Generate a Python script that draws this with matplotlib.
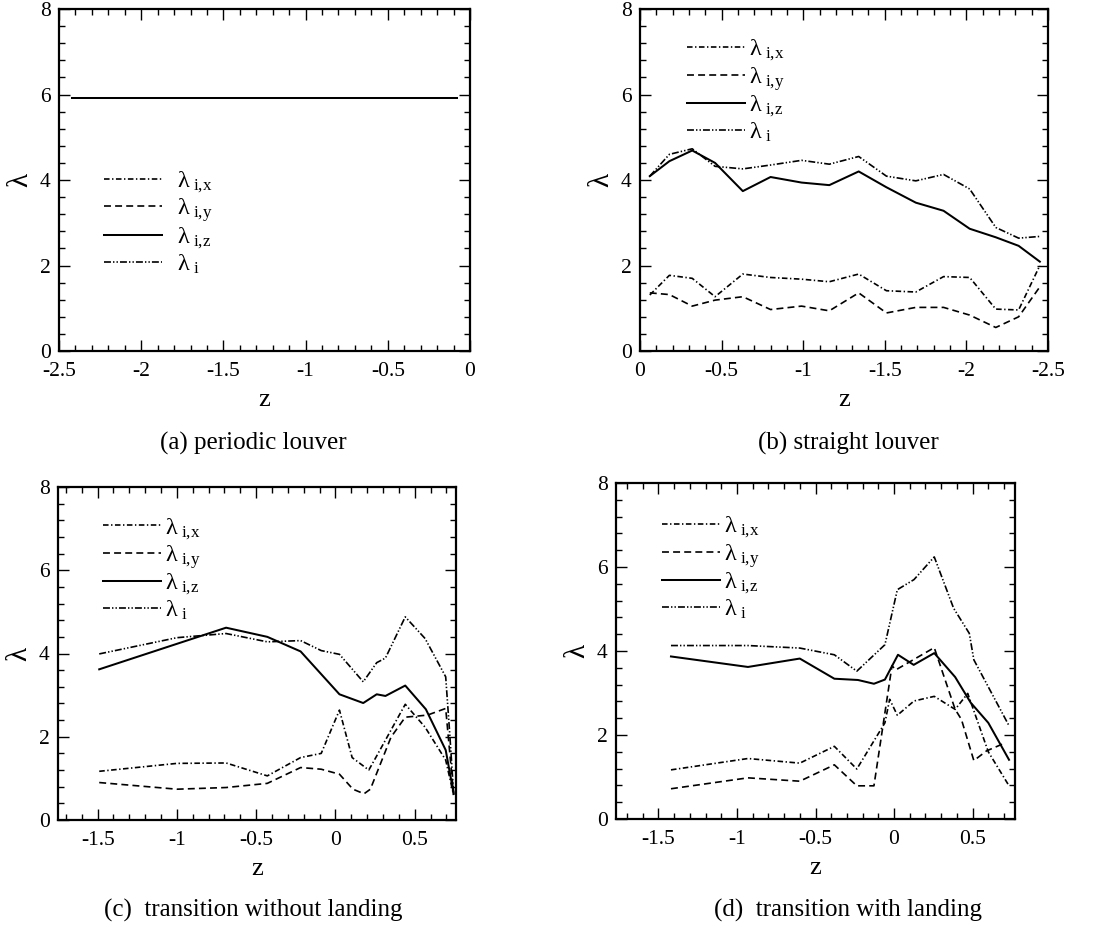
import numpy as np
import matplotlib
matplotlib.use("Agg")
import matplotlib.pyplot as plt
from matplotlib.ticker import MultipleLocator, FuncFormatter

plt.rcParams['font.family'] = ['Liberation Serif', 'DejaVu Serif']
plt.rcParams['mathtext.fontset'] = 'custom'
plt.rcParams['mathtext.rm'] = 'Liberation Serif'
plt.rcParams['mathtext.it'] = 'Liberation Serif'
plt.rcParams['axes.unicode_minus'] = False
plt.rcParams['lines.scale_dashes'] = False

# (a) periodic louver - all components lie on one line
z_a = [-2.42, -0.08]
a_x = [5.92, 5.92]
a_y = [5.92, 5.92]
a_z = [5.92, 5.92]
a_i = [5.92, 5.92]

# (b) straight louver
z_b = [-0.06, -0.18, -0.32, -0.46, -0.63, -0.80, -0.99, -1.16, -1.34, -1.51,
       -1.69, -1.86, -2.02, -2.18, -2.32, -2.45]
b_x = [1.31, 1.77, 1.70, 1.27, 1.80, 1.72, 1.68, 1.62, 1.80, 1.41, 1.38, 1.74,
       1.72, 0.98, 0.96, 2.00]
b_y = [1.36, 1.32, 1.05, 1.19, 1.27, 0.97, 1.05, 0.94, 1.36, 0.89, 1.02, 1.02,
       0.84, 0.55, 0.80, 1.50]
b_z = [4.09, 4.44, 4.69, 4.40, 3.74, 4.07, 3.94, 3.88, 4.20, 3.83, 3.47, 3.28,
       2.86, 2.66, 2.46, 2.09]
b_i = [4.09, 4.60, 4.73, 4.32, 4.26, 4.35, 4.46, 4.37, 4.55, 4.09, 3.98, 4.13,
       3.79, 2.89, 2.64, 2.68]

# (c) transition without landing
zc_x = [-1.49, -1.0, -0.69, -0.43, -0.22, -0.09, 0.025, 0.105, 0.21, 0.26, 0.44,
        0.565, 0.695, 0.745]
c_x = [1.17, 1.36, 1.37, 1.06, 1.50, 1.60, 2.64, 1.50, 1.20, 1.54, 2.78, 2.23,
       1.44, 0.60]
zc_y = [-1.49, -1.0, -0.69, -0.43, -0.22, -0.09, 0.025, 0.11, 0.18, 0.22, 0.35,
        0.44, 0.58, 0.695, 0.745]
c_y = [0.90, 0.74, 0.78, 0.88, 1.26, 1.22, 1.10, 0.74, 0.63, 0.74, 1.99, 2.47,
       2.52, 2.68, 0.60]
zc_z = [-1.49, -0.69, -0.43, -0.22, 0.025, 0.175, 0.26, 0.315, 0.44, 0.57, 0.695,
        0.745]
c_z = [3.62, 4.62, 4.40, 4.05, 3.02, 2.81, 3.02, 2.98, 3.23, 2.66, 1.68, 0.64]
zc_i = [-1.49, -1.0, -0.69, -0.43, -0.22, -0.09, 0.025, 0.175, 0.26, 0.315, 0.44,
        0.565, 0.695, 0.72, 0.745]
c_i = [3.99, 4.38, 4.48, 4.28, 4.31, 4.07, 3.98, 3.32, 3.78, 3.89, 4.88, 4.36,
       3.44, 2.10, 0.64]

# (d) transition with landing
zd_x = [-1.42, -0.93, -0.60, -0.38, -0.237, -0.058, -0.028, 0.021, 0.127, 0.256,
        0.389, 0.469, 0.60, 0.732]
d_x = [1.17, 1.44, 1.33, 1.73, 1.19, 2.29, 2.85, 2.47, 2.81, 2.92, 2.61, 2.99,
       1.60, 0.79]
zd_y = [-1.42, -0.93, -0.60, -0.38, -0.237, -0.128, -0.013, 0.011, 0.256, 0.31,
        0.389, 0.429, 0.508, 0.588, 0.70]
d_y = [0.72, 0.98, 0.90, 1.29, 0.79, 0.79, 3.65, 3.55, 4.08, 3.48, 2.61, 2.37,
       1.39, 1.62, 1.80]
zd_z = [-1.42, -0.93, -0.60, -0.38, -0.23, -0.128, -0.058, 0.025, 0.125, 0.256,
        0.389, 0.488, 0.60, 0.732]
d_z = [3.87, 3.62, 3.82, 3.34, 3.31, 3.22, 3.32, 3.91, 3.67, 3.95, 3.38, 2.77,
       2.29, 1.41]
zd_i = [-1.42, -0.93, -0.60, -0.38, -0.237, -0.058, 0.021, 0.127, 0.256, 0.379,
        0.479, 0.508, 0.732]
d_i = [4.13, 4.13, 4.07, 3.91, 3.52, 4.15, 5.46, 5.70, 6.24, 5.02, 4.42, 3.79,
       2.22]

labels = [r'$\lambda_{\ \rm i{,}x}$', r'$\lambda_{\ \rm i{,}y}$',
          r'$\lambda_{\ \rm i{,}z}$', r'$\lambda_{\ \rm i}$']
styles = [(0, (4, 1.8, 1, 1.8)), (0, (5, 3)), '-', (0, (5, 1.5, 1, 1.5, 1, 1.5))]
widths = [1.2, 1.2, 1.45, 1.2]

W, H = 1103, 930
fig = plt.figure(figsize=(W / 100, H / 100), dpi=100)


def make_ax(l, r, t, b):
    return fig.add_axes([l / W, (H - b) / H, (r - l) / W, (b - t) / H])


def style_ax(ax, xlim, xmajor):
    ax.set_xlim(*xlim)
    ax.set_ylim(0, 8)
    ax.xaxis.set_major_locator(MultipleLocator(xmajor))
    ax.xaxis.set_minor_locator(MultipleLocator(0.1))
    ax.yaxis.set_major_locator(MultipleLocator(2))
    ax.yaxis.set_minor_locator(MultipleLocator(0.4))
    fmt = FuncFormatter(lambda v, p: '%g' % round(v, 3))
    ax.xaxis.set_major_formatter(fmt)
    ax.yaxis.set_major_formatter(fmt)
    ax.tick_params(which='both', direction='in', top=True, right=True,
                   labelsize=15.5, width=1.0)
    ax.tick_params(which='major', length=8)
    ax.tick_params(axis='x', which='major', pad=8)
    ax.tick_params(axis='y', which='major', pad=6)
    ax.tick_params(which='minor', length=4.5)
    for s in ax.spines.values():
        s.set_linewidth(1.6)
    ax.set_xlabel('z', fontsize=19, labelpad=6)
    ax.set_ylabel(u'λ', fontsize=21, labelpad=5)


def draw(ax, zs, vals, anchor, pad):
    hs = []
    for z, v, ls, lw in zip(zs, vals, styles, widths):
        h, = ax.plot(z, v, color='black', lw=lw, linestyle=ls)
        hs.append(h)
    ax.legend(hs, labels, loc='upper left', bbox_to_anchor=anchor, frameon=False,
              fontsize=17.5, handlelength=2.4, handletextpad=pad, labelspacing=0.06,
              borderpad=0, borderaxespad=0)


ax_a = make_ax(59, 470, 9, 351)
draw(ax_a, [z_a] * 4, [a_x, a_y, a_z, a_i], (0.109, 0.53), 0.6)
style_ax(ax_a, (-2.5, 0), 0.5)

ax_b = make_ax(640, 1048, 9, 351)
draw(ax_b, [z_b] * 4, [b_x, b_y, b_z, b_i], (0.115, 0.915), 0.15)
style_ax(ax_b, (0, -2.5), 0.5)

ax_c = make_ax(58, 456, 487, 820)
draw(ax_c, [zc_x, zc_y, zc_z, zc_i], [c_x, c_y, c_z, c_i], (0.113, 0.912), 0.15)
style_ax(ax_c, (-1.75, 0.76), 0.5)

ax_d = make_ax(616, 1015, 483, 819)
draw(ax_d, [zd_x, zd_y, zd_z, zd_i], [d_x, d_y, d_z, d_i], (0.115, 0.904), 0.15)
style_ax(ax_d, (-1.77, 0.77), 0.5)

fig.text(253 / W, 1 - 443 / H, '(a) periodic louver', ha='center', va='center', fontsize=18)
fig.text(848 / W, 1 - 443 / H, '(b) straight louver', ha='center', va='center', fontsize=18)
fig.text(253 / W, 1 - 910 / H, '(c)  transition without landing', ha='center', va='center', fontsize=18)
fig.text(848 / W, 1 - 910 / H, '(d)  transition with landing', ha='center', va='center', fontsize=18)

fig.savefig('out.png', dpi=100)
